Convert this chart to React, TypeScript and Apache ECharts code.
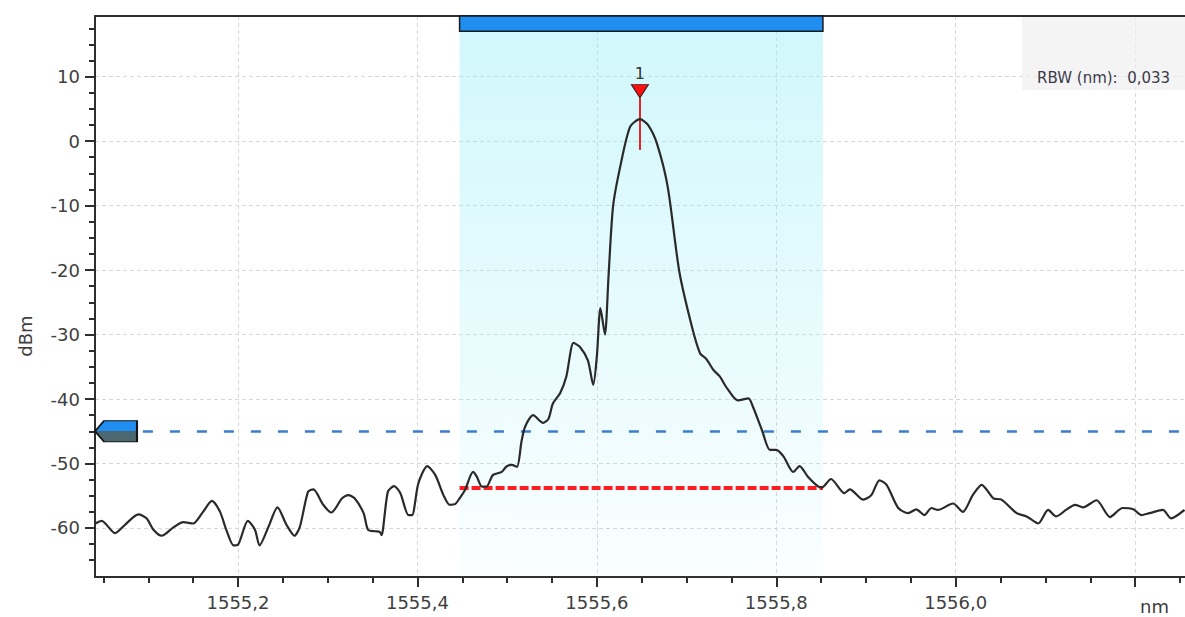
import React, { useEffect, useRef } from 'react';
import * as echarts from 'echarts';

// ---- data ----
const WAVELENGTH = [
  1555.041, 1555.048, 1555.063, 1555.074, 1555.089, 1555.098, 1555.106, 1555.115, 1555.128, 1555.139,
  1555.150, 1555.160, 1555.171, 1555.180, 1555.187, 1555.195, 1555.200, 1555.211, 1555.219, 1555.224,
  1555.234, 1555.244, 1555.254, 1555.263, 1555.269, 1555.278, 1555.284, 1555.295, 1555.304, 1555.316,
  1555.323, 1555.330, 1555.340, 1555.345, 1555.353, 1555.358, 1555.360, 1555.367, 1555.374, 1555.381,
  1555.390, 1555.394, 1555.401, 1555.411, 1555.420, 1555.429, 1555.436, 1555.442, 1555.447, 1555.453,
  1555.462, 1555.466, 1555.472, 1555.477, 1555.484, 1555.494, 1555.499, 1555.505, 1555.511, 1555.516,
  1555.520, 1555.529, 1555.540, 1555.546, 1555.551, 1555.559, 1555.566, 1555.574, 1555.581, 1555.590,
  1555.596, 1555.600, 1555.604, 1555.609, 1555.613, 1555.618, 1555.626, 1555.637, 1555.648, 1555.657,
  1555.667, 1555.679, 1555.692, 1555.706, 1555.715, 1555.722, 1555.730, 1555.737, 1555.745, 1555.757,
  1555.769, 1555.774, 1555.784, 1555.793, 1555.800, 1555.808, 1555.819, 1555.826, 1555.835, 1555.847,
  1555.851, 1555.861, 1555.876, 1555.882, 1555.897, 1555.906, 1555.915, 1555.923, 1555.936, 1555.947,
  1555.956, 1555.965, 1555.973, 1555.980, 1555.997, 1556.008, 1556.019, 1556.029, 1556.042, 1556.051,
  1556.068, 1556.079, 1556.092, 1556.103, 1556.112, 1556.123, 1556.133, 1556.142, 1556.157, 1556.172,
  1556.186, 1556.198, 1556.207, 1556.216, 1556.231, 1556.240, 1556.255,
];
const POWER = [
  -59.3, -58.9, -60.8, -59.5, -57.9, -58.5, -60.3, -61.2, -59.9, -59.1,
  -59.3, -57.7, -55.8, -57.5, -60.3, -62.7, -62.6, -58.9, -60.3, -62.7,
  -59.8, -56.8, -59.5, -61.2, -59.8, -54.4, -54.0, -56.4, -57.6, -55.4,
  -54.9, -55.4, -57.7, -60.3, -60.5, -60.6, -61.1, -54.4, -53.5, -54.6,
  -58.0, -58.0, -53.1, -50.4, -51.8, -54.9, -56.4, -56.3, -55.4, -54.1,
  -51.3, -52.0, -53.6, -53.6, -51.8, -51.3, -50.5, -50.2, -50.5, -46.6,
  -44.3, -42.5, -43.7, -43.1, -40.7, -39.1, -36.5, -31.3, -31.9, -34.0,
  -37.8, -33.4, -25.9, -30.0, -21.0, -10.2, -4.0, 2.2, 3.4, 2.5,
  -0.4, -7.1, -20.3, -28.8, -32.9, -33.8, -35.5, -36.5, -38.3, -40.2,
  -39.9, -41.2, -44.8, -47.9, -47.9, -48.9, -51.3, -50.4, -52.0, -53.6,
  -53.7, -52.4, -54.6, -54.0, -55.6, -54.9, -52.6, -53.3, -56.9, -57.7,
  -57.1, -58.0, -56.9, -57.2, -56.2, -57.5, -54.9, -53.3, -55.4, -55.6,
  -57.7, -58.2, -59.3, -57.2, -58.2, -57.2, -56.4, -56.8, -55.7, -58.3,
  -56.9, -57.1, -58.0, -57.7, -57.2, -58.5, -57.2,
];

// axis ranges and ticks
const X_MIN = 1555.0406;
const X_MAX = 1556.2556;
const Y_MIN = -67.6;
const Y_MAX = 19.4;
const X_MAJOR = [1555.2, 1555.4, 1555.6, 1555.8, 1556.0, 1556.2];
const X_MINOR = [
  1555.05, 1555.1, 1555.15, 1555.25, 1555.3, 1555.35, 1555.45, 1555.5, 1555.55, 1555.65,
  1555.7, 1555.75, 1555.85, 1555.9, 1555.95, 1556.05, 1556.1, 1556.15, 1556.25,
];
const Y_MAJOR = [-60, -50, -40, -30, -20, -10, 0, 10];
const Y_MINOR = [
  -65, -62.5, -57.5, -55, -52.5, -47.5, -45, -42.5, -37.5, -35, -32.5, -27.5, -25, -22.5,
  -17.5, -15, -12.5, -7.5, -5, -2.5, 2.5, 5, 7.5, 12.5, 15, 17.5,
];
const X_UNIT = 'nm';
const Y_UNIT = 'dBm';

// analysis overlays
const BAND = [1555.447, 1555.852];
const BAND_BAR = [17.05, 19.4];
const NOISE_LEVEL = -53.7;
const THRESHOLD = -45;
const THRESHOLD_FROM = 1555.094;
const MARKER_LINE = [6.7, -1.4];
const MARKER_LABEL = '1';
const RBW_TEXT = 'RBW (nm):  0,033';

const FONT = 'DejaVu Sans';
const AXIS_COLOR = '#2e2e2e';
const LABEL_COLOR = '#404040';
const GRID_COLOR = '#d8d8d8';

export default function App() {
  const ref = useRef<HTMLDivElement>(null);

  useEffect(() => {
    if (!ref.current) return;
    const chart = echarts.init(ref.current, undefined, { renderer: 'svg' });

    const lineData = WAVELENGTH.map((w, i) => [w, POWER[i]]);
    const peakIdx = POWER.indexOf(Math.max(...POWER));
    const peak = [WAVELENGTH[peakIdx], POWER[peakIdx]];

    const tickStyle = { color: AXIS_COLOR, width: 2 };
    const splitStyle = { color: GRID_COLOR, type: [4, 3] as any, width: 1 };

    const option: any = {
      animation: false,
      backgroundColor: '#ffffff',
      textStyle: { fontFamily: FONT },
      grid: { left: 95, right: 0, top: 16, bottom: 40 },
      xAxis: [
        {
          type: 'value', min: X_MIN, max: X_MAX, position: 'bottom',
          axisLine: { show: true, onZero: false, lineStyle: { color: AXIS_COLOR, width: 2 } },
          axisTick: { show: true, customValues: X_MAJOR, length: 10, lineStyle: tickStyle },
          axisLabel: {
            customValues: X_MAJOR, margin: 16, color: LABEL_COLOR, fontSize: 18, fontFamily: FONT,
            formatter: (v: number) => (v > 1556.1 ? '' : v.toFixed(1).replace('.', ',')),
          },
          splitLine: { show: true, lineStyle: splitStyle },
        },
        {
          type: 'value', min: X_MIN, max: X_MAX, position: 'bottom',
          axisLine: { show: false, onZero: false },
          axisTick: { show: true, customValues: X_MINOR, length: 6, lineStyle: tickStyle },
          axisLabel: { show: false, customValues: X_MINOR },
          splitLine: { show: false },
        },
        {
          type: 'value', min: X_MIN, max: X_MAX, position: 'top',
          axisLine: { show: true, onZero: false, lineStyle: { color: AXIS_COLOR, width: 2 } },
          axisTick: { show: false }, axisLabel: { show: false }, splitLine: { show: false },
        },
      ],
      yAxis: [
        {
          type: 'value', min: Y_MIN, max: Y_MAX, position: 'left',
          axisLine: { show: true, onZero: false, lineStyle: { color: AXIS_COLOR, width: 2 } },
          axisTick: { show: true, customValues: Y_MAJOR, length: 10, lineStyle: tickStyle },
          axisLabel: { customValues: Y_MAJOR, margin: 15, color: LABEL_COLOR, fontSize: 18, fontFamily: FONT },
          splitLine: { show: true, lineStyle: splitStyle },
        },
        {
          type: 'value', min: Y_MIN, max: Y_MAX, position: 'left',
          axisLine: { show: false, onZero: false },
          axisTick: { show: true, customValues: Y_MINOR, length: 6, lineStyle: tickStyle },
          axisLabel: { show: false, customValues: Y_MINOR },
          splitLine: { show: false },
        },
      ],
      graphic: [
        {
          type: 'rect', z: 1, shape: { x: 1022, y: 17, width: 163, height: 73 },
          style: { fill: 'rgba(240,240,240,0.7)' },
        },
        {
          type: 'text', z: 1, x: 1037, y: 78,
          style: { text: RBW_TEXT, fontSize: 15, fontFamily: FONT, fill: '#3a3a4a', verticalAlign: 'middle' },
        },
        {
          type: 'text', z: 1, x: 1140, y: 606,
          style: { text: X_UNIT, fontSize: 18, fontFamily: FONT, fill: LABEL_COLOR, verticalAlign: 'middle' },
        },
        {
          type: 'text', z: 1, x: 25, y: 336, rotation: Math.PI / 2,
          style: { text: Y_UNIT, fontSize: 18, fontFamily: FONT, fill: LABEL_COLOR, align: 'center', verticalAlign: 'middle' },
        },
      ],
      series: [
        {
          type: 'line', xAxisIndex: 0, yAxisIndex: 0, data: lineData,
          showSymbol: false, smooth: 0.25, z: 5,
          lineStyle: { color: '#2a2a2a', width: 2.2 },
          markArea: {
            silent: true,
            data: [
              [
                {
                  xAxis: BAND[0],
                  itemStyle: {
                    color: {
                      type: 'linear', x: 0, y: 0, x2: 0, y2: 1,
                      colorStops: [
                        { offset: 0, color: 'rgba(150,238,248,0.45)' },
                        { offset: 1, color: 'rgba(150,238,248,0.04)' },
                      ],
                    },
                  },
                },
                { xAxis: BAND[1] },
              ],
              [
                {
                  coord: [BAND[0], BAND_BAR[0]],
                  itemStyle: { color: '#1f8ef0', borderColor: '#1a1a1a', borderWidth: 1.5 },
                },
                { coord: [BAND[1], BAND_BAR[1]] },
              ],
            ],
          },
          markLine: {
            silent: true, symbol: ['none', 'none'], label: { show: false },
            data: [
              [
                { coord: [BAND[0], NOISE_LEVEL], lineStyle: { color: '#ff1e1e', width: 4, type: [9, 3] } },
                { coord: [BAND[1], NOISE_LEVEL] },
              ],
              [
                { coord: [THRESHOLD_FROM, THRESHOLD], lineStyle: { color: '#3b7dcc', width: 2.5, type: [10, 17] } },
                { coord: [X_MAX, THRESHOLD] },
              ],
              [
                { coord: [peak[0], MARKER_LINE[0]], lineStyle: { color: '#e82424', width: 2, type: 'solid' } },
                { coord: [peak[0], MARKER_LINE[1]] },
              ],
            ],
          },
          markPoint: {
            silent: true,
            data: [
              {
                coord: peak,
                symbol: 'path://M0 0 L18 0 L9 14 Z', symbolSize: [17, 13], symbolOffset: [0, -28],
                itemStyle: { color: '#ff1010', borderColor: '#3a1a1a', borderWidth: 1 },
                label: { show: true, position: 'top', distance: 3, formatter: MARKER_LABEL, color: '#333', fontSize: 16, fontFamily: FONT },
              },
              {
                coord: [X_MIN, THRESHOLD],
                symbol: 'path://M0 10.5 L9 0 L42 0 L42 21 L9 21 Z', symbolSize: [42, 21], symbolOffset: [21, 0],
                itemStyle: {
                  color: {
                    type: 'linear', x: 0, y: 0, x2: 0, y2: 1,
                    colorStops: [
                      { offset: 0, color: '#1f8ef0' },
                      { offset: 0.5, color: '#1f8ef0' },
                      { offset: 0.5, color: '#4b6870' },
                      { offset: 1, color: '#4b6870' },
                    ],
                  },
                  borderColor: '#151515', borderWidth: 1.5,
                },
                label: { show: false },
              },
            ],
          },
        },
      ],
    };

    chart.setOption(option);
    return () => chart.dispose();
  }, []);

  return (
    <div
      ref={ref}
      style={{ position: 'fixed', left: 0, top: 0, width: 1185, height: 617, background: '#fff' }}
    />
  );
}
